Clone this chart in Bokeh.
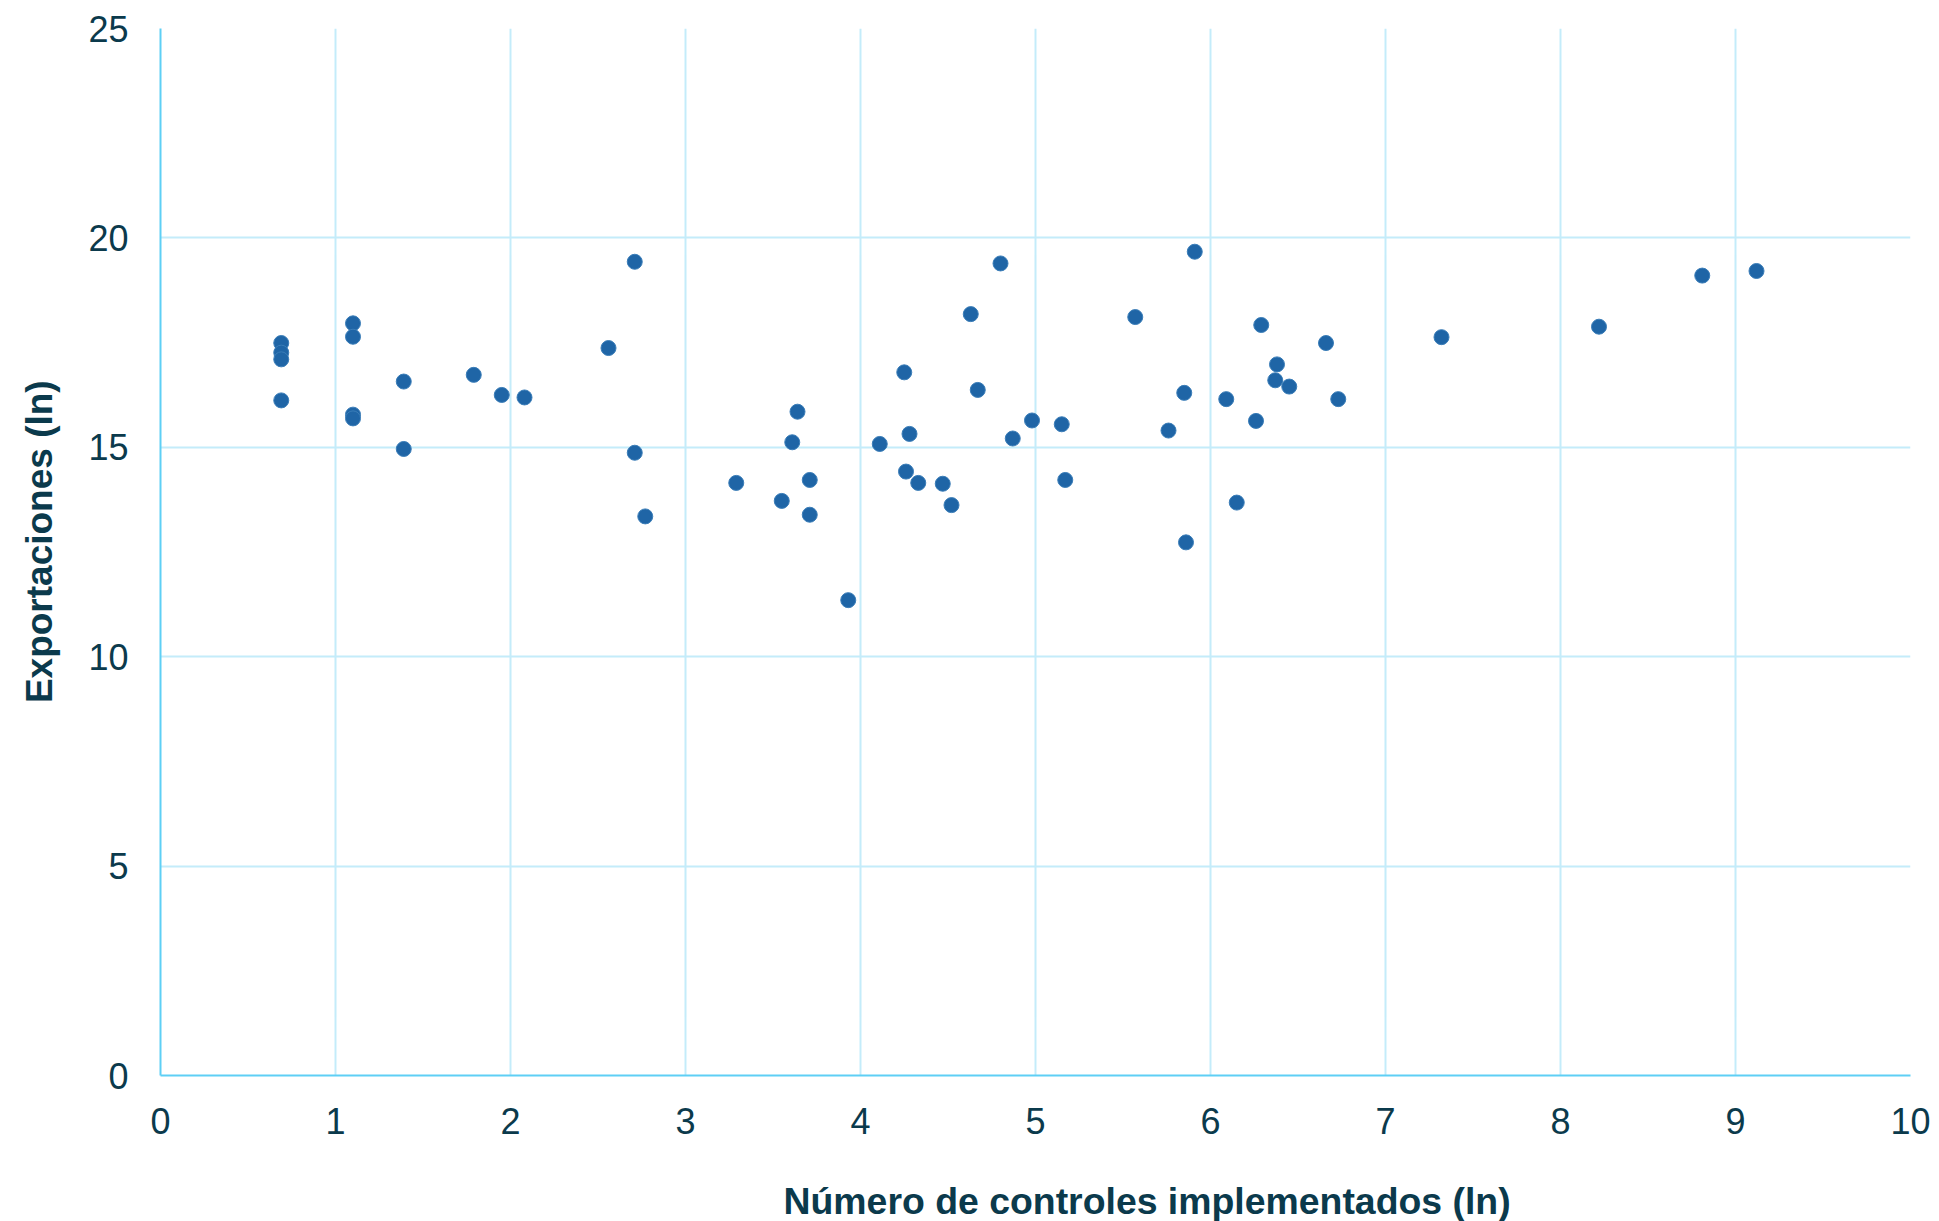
from bokeh.plotting import figure
from bokeh.models import ColumnDataSource, FixedTicker, Range1d, Title
from bokeh.embed import file_html
from bokeh.resources import INLINE

# Número de controles implementados (ln)
controles_ln = [0.69, 0.69, 0.69, 0.69, 1.10, 1.10, 1.10, 1.10, 1.39, 1.39,
                1.79, 1.95, 2.08, 2.56, 2.71, 2.71, 2.77, 3.29, 3.55, 3.61,
                3.64, 3.71, 3.71, 3.93, 4.11, 4.25, 4.26, 4.28, 4.33, 4.47,
                4.52, 4.63, 4.67, 4.80, 4.87, 4.98, 5.15, 5.17, 5.57, 5.76,
                5.85, 5.86, 5.91, 6.09, 6.15, 6.26, 6.29, 6.37, 6.38, 6.45,
                6.66, 6.73, 7.32, 8.22, 8.81, 9.12]
# Exportaciones (ln)
exportaciones_ln = [17.49, 17.26, 17.10, 16.12, 17.96, 17.64, 15.78, 15.69, 16.57, 14.96,
                    16.73, 16.25, 16.19, 17.37, 19.43, 14.87, 13.35, 14.15, 13.72, 15.12,
                    15.85, 14.22, 13.39, 11.35, 15.08, 16.79, 14.42, 15.32, 14.15, 14.13,
                    13.62, 18.18, 16.37, 19.39, 15.21, 15.64, 15.55, 14.22, 18.11, 15.40,
                    16.30, 12.73, 19.67, 16.15, 13.68, 15.63, 17.92, 16.60, 16.98, 16.45,
                    17.49, 16.15, 17.63, 17.88, 19.10, 19.21]

x_ticks = [0, 1, 2, 3, 4, 5, 6, 7, 8, 9, 10]
y_ticks = [0, 5, 10, 15, 20, 25]
x_title = "Número de controles implementados (ln)"
y_title = "Exportaciones (ln)"

source = ColumnDataSource(dict(x=controles_ln, y=exportaciones_ln))

TEXT = "#0B3A4C"
GRID = "#C4ECFA"
AXIS = "#5ECFF5"

p = figure(width=1931, height=1221, output_backend="svg", toolbar_location=None,
           x_range=Range1d(0, 10), y_range=Range1d(0, 25),
           min_border_left=160, min_border_right=21, min_border_top=28, min_border_bottom=0)
p.outline_line_color = None
p.background_fill_color = "white"
p.border_fill_color = "white"

p.scatter("x", "y", source=source, size=15, fill_color="#1F65A6",
          line_color="#3A7DB8", line_width=1)

p.xaxis.ticker = FixedTicker(ticks=x_ticks)
p.yaxis.ticker = FixedTicker(ticks=y_ticks)

for ax in (p.xaxis, p.yaxis):
    ax.major_tick_line_color = None
    ax.minor_tick_line_color = None
    ax.axis_line_color = AXIS
    ax.axis_line_width = 2
    ax.major_label_text_color = TEXT
    ax.major_label_text_font = "Liberation Sans"
    ax.major_label_text_font_size = "36px"

p.xaxis.major_label_standoff = 26
p.yaxis.major_label_standoff = 26
# blank spacer label keeps the frame height while the title sits lower
p.xaxis.axis_label = "\u00a0"
p.xaxis.axis_label_standoff = 0
p.xaxis.axis_label_text_font_size = "34px"

# y title as axis label, nudged up slightly to match the original placement
p.yaxis.axis_label = "\u00a0\u00a0" + y_title
p.yaxis.axis_label_standoff = 25
p.yaxis.axis_label_text_color = TEXT
p.yaxis.axis_label_text_font = "Liberation Sans"
p.yaxis.axis_label_text_font_size = "37px"
p.yaxis.axis_label_text_font_style = "bold"

xt = Title(text=x_title, align="left", offset=623, standoff=0,
           text_color=TEXT, text_font="Liberation Sans", text_font_size="37.4px",
           text_font_style="bold")
p.add_layout(xt, "below")

p.xgrid.ticker = FixedTicker(ticks=x_ticks)
p.ygrid.ticker = FixedTicker(ticks=y_ticks)
p.grid.grid_line_color = GRID
p.grid.grid_line_width = 2

open("out.html", "w").write(file_html(p, INLINE))
